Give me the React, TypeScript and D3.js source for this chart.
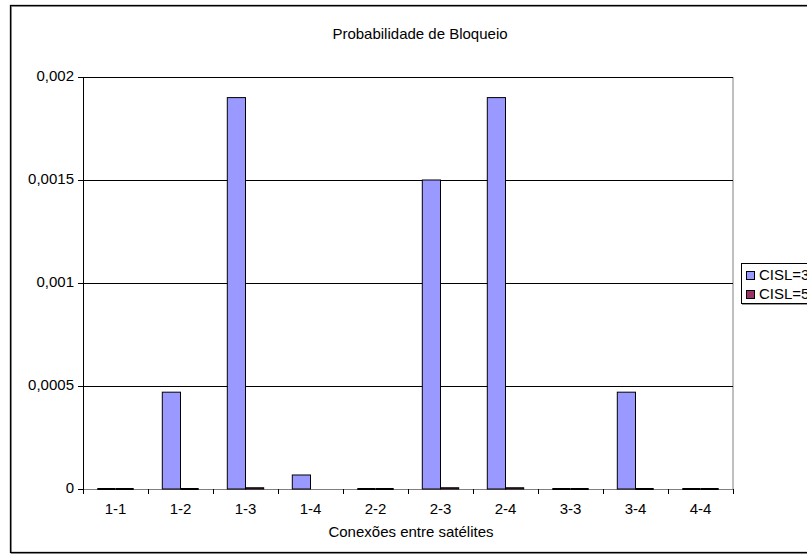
import React from "react";
import * as d3 from "d3";

// Connection pairs between satellites
const categories = ["1-1", "1-2", "1-3", "1-4", "2-2", "2-3", "2-4", "3-3", "3-4", "4-4"];
// Blocking probability per connection, for each CISL setting (null = no value)
const cisl3: (number | null)[] = [0, 0.00047, 0.0019, 0.000068, 0, 0.0015, 0.0019, 0, 0.00047, 0];
const cisl5: (number | null)[] = [0, 0, 0.000006, null, 0, 0.000006, 0.000006, 0, 0, 0];
const seriesNames = ["CISL=3", "CISL=5"];
const seriesColors = ["#9999FF", "#993366"];
const yTicks = [0, 0.0005, 0.001, 0.0015, 0.002];

const W = 807;
const H = 556;
const plot = { left: 83, right: 733, top: 77, bottom: 489 };
const FONT = "'Liberation Sans', Arial, sans-serif";

const locale = d3.formatLocale({ decimal: ",", thousands: ".", grouping: [3], currency: ["", ""] });
const fmt = locale.format("~g");

export default function App() {
  const x = d3.scaleBand<string>().domain(categories).range([plot.left, plot.right]).paddingInner(0).paddingOuter(0);
  const y = d3.scaleLinear().domain([0, 0.002]).range([plot.bottom, plot.top]);
  const bw = x.bandwidth();
  const barW = bw * 0.28;
  const series = [cisl3, cisl5];

  return (
    <svg
      width={W}
      height={H}
      style={{ position: "absolute", left: 0, top: 0, background: "#fff", fontFamily: FONT }}
    >
      <rect x={0} y={0} width={W} height={H} fill="#fff" />
      {/* chart frame with shadow */}
      <rect x={11.5} y={6.5} width={W + 10} height={547} fill="none" stroke="#999" strokeWidth={1} />
      <rect x={10.5} y={5.5} width={W + 10} height={547} fill="none" stroke="#000" strokeWidth={1.3} />

      <text x={420} y={35} textAnchor="middle" dominantBaseline="middle" fontSize={15} fill="#000">
        Probabilidade de Bloqueio
      </text>

      {/* plot area border */}
      <rect
        x={plot.left + 0.5}
        y={plot.top + 0.5}
        width={plot.right - plot.left - 0.5}
        height={plot.bottom - plot.top}
        fill="#fff"
        stroke="#808080"
        strokeWidth={1}
      />

      {/* gridlines */}
      {yTicks.slice(1).map((t) => (
        <line key={t} x1={plot.left} x2={plot.right} y1={Math.round(y(t)) + 0.5} y2={Math.round(y(t)) + 0.5} stroke="#000" strokeWidth={1} />
      ))}

      {/* x axis line */}
      <line x1={plot.left} x2={plot.right} y1={plot.bottom + 0.5} y2={plot.bottom + 0.5} stroke="#808080" />

      {/* bars */}
      {categories.map((c, i) => {
        const center = (x(c) as number) + bw / 2;
        return series.map((s, si) => {
          const v = s[i];
          if (v === null) return null;
          const bx = center - barW + si * barW;
          const top = y(v);
          if (plot.bottom - top < 0.5) {
            return (
              <line key={c + si} x1={bx} x2={bx + barW} y1={plot.bottom} y2={plot.bottom} stroke="#000" strokeWidth={2} />
            );
          }
          return (
            <rect
              key={c + si}
              x={bx}
              y={top}
              width={barW}
              height={plot.bottom - top}
              fill={seriesColors[si]}
              stroke="#000"
              strokeWidth={1}
            />
          );
        });
      })}

      {/* y axis */}
      <line x1={plot.left + 0.5} x2={plot.left + 0.5} y1={plot.top} y2={plot.bottom} stroke="#000" />
      {yTicks.map((t) => (
        <g key={t}>
          <line x1={plot.left - 5} x2={plot.left} y1={Math.round(y(t)) + 0.5} y2={Math.round(y(t)) + 0.5} stroke="#000" />
          <text x={plot.left - 9} y={y(t)} textAnchor="end" dominantBaseline="middle" fontSize={15} fill="#000">
            {fmt(t)}
          </text>
        </g>
      ))}

      {/* x axis ticks and labels */}
      {categories.map((c) => (
        <line key={"t" + c} x1={Math.round(x(c) as number) + 0.5} x2={Math.round(x(c) as number) + 0.5} y1={plot.bottom} y2={plot.bottom + 5} stroke="#000" />
      ))}
      <line x1={plot.right + 0.5} x2={plot.right + 0.5} y1={plot.bottom} y2={plot.bottom + 5} stroke="#000" />
      {categories.map((c) => (
        <text key={"l" + c} x={(x(c) as number) + bw / 2} y={510} textAnchor="middle" dominantBaseline="middle" fontSize={15} fill="#000">
          {c}
        </text>
      ))}
      <text x={411} y={533} textAnchor="middle" dominantBaseline="middle" fontSize={15} fill="#000">
        Conexões entre satélites
      </text>

      {/* legend */}
      <rect x={742.5} y={264.5} width={80} height={40} fill="none" stroke="#999" />
      <rect x={741.5} y={263.5} width={80} height={40} fill="#fff" stroke="#000" />
      {seriesNames.map((n, i) => (
        <g key={n}>
          <rect x={746.5} y={271.5 + i * 19} width={8} height={8} fill={seriesColors[i]} stroke="#000" />
          <text x={759} y={276 + i * 19} dominantBaseline="middle" fontSize={15} fill="#000">
            {n}
          </text>
        </g>
      ))}
    </svg>
  );
}
